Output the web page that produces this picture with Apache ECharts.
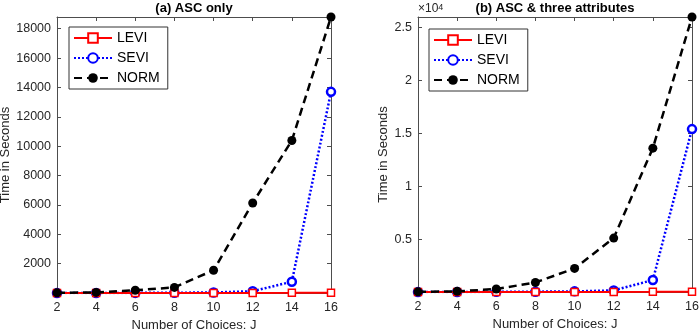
<!DOCTYPE html>
<html>
<head>
<meta charset="utf-8">
<script src="https://cdn.jsdelivr.net/npm/echarts@6/dist/echarts.min.js"></script>
<style>
  html, body { margin: 0; padding: 0; background: #fff; }
  #main { width: 699px; height: 329px; }
</style>
</head>
<body>
<div id="main"></div>
<script>
// number of choices J
var choices = [2, 4, 6, 8, 10, 12, 14, 16];

// (a) ASC only, time in seconds
var leviA = [0.5, 1, 2, 3, 5, 8, 12, 20];
var seviA = [1, 3, 8, 15, 40, 120, 770, 13700];
var normA = [10, 40, 190, 380, 1550, 6130, 10390, 18800];

// (b) ASC & three attributes, time in seconds
var leviB = [0.5, 1, 2, 4, 6, 10, 15, 25];
var seviB = [2, 5, 15, 30, 60, 150, 1130, 15400];
var normB = [15, 60, 280, 900, 2230, 5100, 13600, 26000];

var yTicksA = [2000, 4000, 6000, 8000, 10000, 12000, 14000, 16000, 18000];
var yTicksB = [5000, 10000, 15000, 20000, 25000];

function pairs(vals) {
  return choices.map(function (c, i) { return [c, vals[i]]; });
}

var font = "'Liberation Sans', Arial, sans-serif";
var axisCol = "#4d4d4d";
var textCol = "#262626";

function xAx(grid, top) {
  return {
    type: "value", gridIndex: grid, position: top ? "top" : "bottom",
    min: 2, max: 16, interval: 2,
    name: top ? "" : "Number of Choices: J",
    nameLocation: "middle", nameGap: 24,
    nameTextStyle: { color: textCol, fontSize: 13, fontFamily: font },
    axisLine: { show: true, onZero: false, lineStyle: { color: axisCol, width: 1 } },
    axisTick: { show: true, inside: true, length: 4, lineStyle: { color: axisCol } },
    axisLabel: { show: !top, color: textCol, fontSize: 12.5, fontFamily: font, margin: 8 },
    splitLine: { show: false }
  };
}

function yAx(grid, right, maxV, step, ticks, fmt, gap) {
  return {
    type: "value", gridIndex: grid, position: right ? "right" : "left",
    min: 0, max: maxV, interval: step,
    name: right ? "" : "Time in Seconds",
    nameLocation: "middle", nameGap: gap,
    nameTextStyle: { color: textCol, fontSize: 13, fontFamily: font },
    axisLine: { show: true, onZero: false, lineStyle: { color: axisCol, width: 1 } },
    axisTick: { show: true, inside: true, length: 4, lineStyle: { color: axisCol } },
    axisLabel: {
      show: !right, color: textCol, fontSize: 12.5, fontFamily: font, margin: 6,
      showMaxLabel: true,
      formatter: function (v) { return ticks.indexOf(v) >= 0 ? fmt(v) : ""; }
    },
    splitLine: { show: false }
  };
}

function mkSeries(xi, yi, levi, sevi, norm) {
  return [
    {
      name: "LEVI", type: "line", xAxisIndex: xi, yAxisIndex: yi, z: 4,
      data: pairs(levi), symbol: "rect", symbolSize: 7,
      lineStyle: { color: "#ff0000", width: 2 },
      itemStyle: { color: "#fff", borderColor: "#ff0000", borderWidth: 1.5 }
    },
    {
      name: "SEVI", type: "line", xAxisIndex: xi, yAxisIndex: yi, z: 3,
      data: pairs(sevi), symbol: "circle", symbolSize: 8,
      lineStyle: { color: "#0000ff", width: 2.5, type: [2, 2] },
      itemStyle: { color: "#fff", borderColor: "#0000ff", borderWidth: 2.5 }
    },
    {
      name: "NORM", type: "line", xAxisIndex: xi, yAxisIndex: yi, z: 5,
      data: pairs(norm), symbol: "circle", symbolSize: 9,
      lineStyle: { color: "#000", width: 2.5, type: [8, 5] },
      itemStyle: { color: "#000", borderColor: "#000", borderWidth: 0 }
    }
  ];
}

function mkLegend(left, top) {
  return {
    data: ["LEVI", "SEVI", "NORM"], orient: "vertical",
    left: left, top: top, padding: [4, 8, 4, 4], itemGap: 6,
    itemWidth: 38, itemHeight: 12,
    borderColor: "#333", borderWidth: 1, backgroundColor: "#fff",
    textStyle: { color: "#000", fontSize: 14, fontFamily: font },
    selectedMode: false
  };
}

var chart = echarts.init(document.getElementById("main"), null, { renderer: "canvas" });

chart.setOption({
  animation: false,
  backgroundColor: "#fff",
  grid: [
    { left: 57, top: 17, width: 274, height: 276, outerBoundsMode: "none", containLabel: false },
    { left: 418, top: 17, width: 274, height: 275, outerBoundsMode: "none", containLabel: false }
  ],
  xAxis: [xAx(0, false), xAx(0, true), xAx(1, false), xAx(1, true)],
  yAxis: [
    yAx(0, false, 18800, 2000, yTicksA, function (v) { return String(v); }, 44),
    yAx(0, true, 18800, 2000, yTicksA, String, 0),
    yAx(1, false, 26000, 5000, yTicksB, function (v) { return String(v / 10000); }, 28),
    yAx(1, true, 26000, 5000, yTicksB, String, 0)
  ],
  legend: [mkLegend(69, 27), mkLegend(429, 29)],
  graphic: [
    { type: "text", x: 194, y: 8, style: { text: "(a) ASC only", font: "bold 13px " + font, fill: "#000", align: "center", verticalAlign: "middle" } },
    { type: "text", x: 555, y: 8, style: { text: "(b) ASC & three attributes", font: "bold 13px " + font, fill: "#000", align: "center", verticalAlign: "middle" } },
    { type: "text", left: 418, top: 3, style: {
        rich: { b: { fontSize: 12, fontFamily: font, fill: textCol }, s: { fontSize: 9, fontFamily: font, fill: textCol, verticalAlign: "top" } },
        text: "{b|\u00d710}{s|4}", fill: textCol } }
  ],
  series: mkSeries(0, 0, leviA, seviA, normA).concat(mkSeries(2, 2, leviB, seviB, normB))
});
</script>
</body>
</html>
